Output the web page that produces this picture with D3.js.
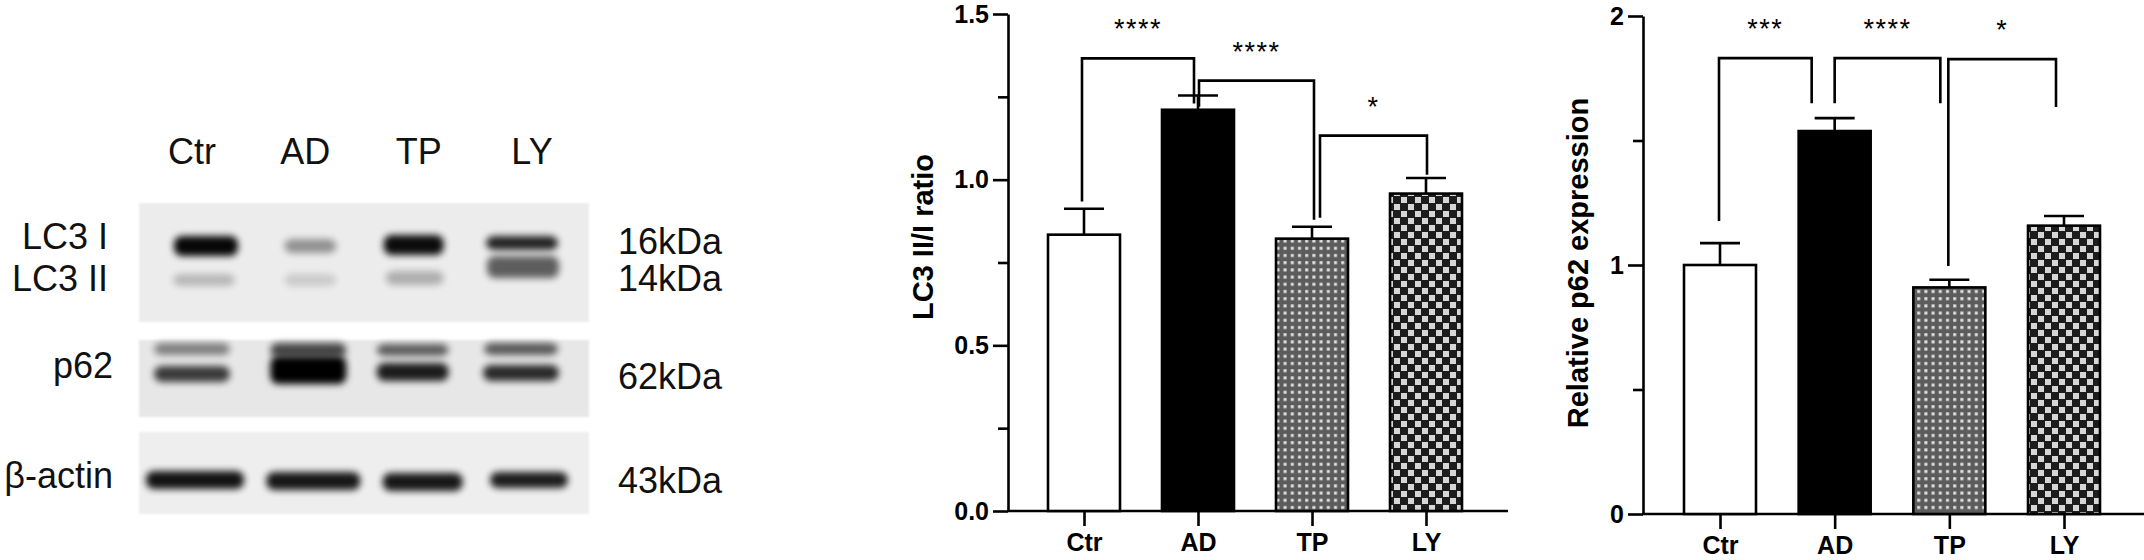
<!DOCTYPE html>
<html>
<head>
<meta charset="utf-8">
<script src="https://cdn.jsdelivr.net/npm/d3@7"></script>
<style>
  body { margin: 0; background: #fff; }
  svg { display: block; }
</style>
</head>
<body>
<svg id="fig" width="2144" height="560"></svg>
<script>
// ---- data ----
const groups = ["Ctr", "AD", "TP", "LY"];

const lc3Ratio = [0.834, 1.211, 0.822, 0.958];
const lc3Sem = [0.078, 0.043, 0.036, 0.047];
const lc3Major = [0, 0.5, 1.0, 1.5];
const lc3Minor = [0.25, 0.75, 1.25];
const lc3Pairs = [["Ctr", "AD"], ["AD", "TP"], ["TP", "LY"]];
const lc3Stars = ["****", "****", "*"];
const lc3BracketTop = [1.366, 1.299, 1.133];
const lc3LegEnd = [[0.934, 1.23], [1.22, 0.879], [0.885, 1.015]];

const p62Rel = [1.0, 1.538, 0.910, 1.158];
const p62Sem = [0.088, 0.052, 0.031, 0.039];
const p62Major = [0, 1, 2];
const p62Minor = [0.5, 1.5];
const p62Pairs = [["Ctr", "AD"], ["AD", "TP"], ["TP", "LY"]];
const p62Stars = ["***", "****", "*"];
const p62BracketTop = [1.831, 1.831, 1.827];
const p62LegEnd = [[1.177, 1.65], [1.65, 1.65], [0.996, 1.635]];

// blot band intensities (0..1) per lane
const lc3IBand = [0.97, 0.38, 0.95, 0.85];
const lc3IIBand = [0.22, 0.14, 0.26, 0.6];
const p62UpperBand = [0.45, 0.7, 0.6, 0.62];
const p62LowerBand = [0.75, 1.0, 0.88, 0.82];
const actinBand = [0.92, 0.9, 0.9, 0.88];

const rowLabels = ["LC3 I", "LC3 II", "p62", "β-actin"];
const sizeLabels = ["16kDa", "14kDa", "62kDa", "43kDa"];

const svg = d3.select("#fig");
const FONT = "Arial, 'Liberation Sans', sans-serif";

// ---- patterns ----
const defs = svg.append("defs");

var dots = defs.append("pattern")
  .attr("id", "dots").attr("patternUnits", "userSpaceOnUse")
  .attr("width", 7.2).attr("height", 7.2);
dots.append("rect").attr("width", 7.2).attr("height", 7.2).attr("fill", "#5c5c5c");
dots.append("rect").attr("x", 2).attr("y", 2).attr("width", 3).attr("height", 3).attr("fill", "#e2e2e2");

var checker = defs.append("pattern")
  .attr("id", "checker").attr("patternUnits", "userSpaceOnUse")
  .attr("width", 14).attr("height", 14);
checker.append("rect").attr("width", 14).attr("height", 14).attr("fill", "#1c1c1c");
checker.append("rect").attr("x", 1).attr("y", 1).attr("width", 6).attr("height", 6).attr("fill", "#d6d6d6");
checker.append("rect").attr("x", 8).attr("y", 8).attr("width", 6).attr("height", 6).attr("fill", "#d6d6d6");

defs.append("filter").attr("id", "blur")
  .attr("x", "-30%").attr("y", "-80%").attr("width", "160%").attr("height", "260%")
  .append("feGaussianBlur").attr("stdDeviation", 3.5);

defs.append("filter").attr("id", "soft")
  .append("feGaussianBlur").attr("stdDeviation", 1.2);

const fills = ["#ffffff", "#000000", "url(#dots)", "url(#checker)"];

// ---- bar chart ----
function barChart(opt) {
  var g = svg.append("g");

  var y = d3.scaleLinear().domain([0, opt.max]).range([opt.bottom, opt.top]);
  var x = d3.scalePoint().domain(groups).range([opt.first, opt.last]);

  // y axis
  var ya = g.append("g")
    .attr("transform", "translate(" + opt.left + ",0)")
    .call(d3.axisLeft(y).tickValues(opt.major).tickSize(15).tickSizeOuter(0)
      .tickPadding(4).tickFormat(d3.format(opt.fmt)));
  ya.select(".domain").attr("stroke-width", 2.6);
  ya.selectAll(".tick line").attr("stroke-width", 2.6);
  ya.selectAll("text")
    .attr("font-family", FONT).attr("font-size", 25).attr("font-weight", "bold")
    .attr("fill", "#000");

  var ym = g.append("g")
    .attr("transform", "translate(" + opt.left + ",0)")
    .call(d3.axisLeft(y).tickValues(opt.minor).tickSize(10).tickFormat(""));
  ym.select(".domain").remove();
  ym.selectAll(".tick line").attr("stroke-width", 2.6);

  // x axis
  g.append("line")
    .attr("x1", opt.left - 1).attr("x2", opt.right)
    .attr("y1", y(0)).attr("y2", y(0))
    .attr("stroke", "#000").attr("stroke-width", 2.6);

  var xa = g.append("g")
    .attr("transform", "translate(0," + y(0) + ")")
    .call(d3.axisBottom(x).tickSize(15).tickSizeOuter(0).tickPadding(7));
  xa.select(".domain").remove();
  xa.selectAll(".tick line").attr("stroke-width", 2.6);
  xa.selectAll("text")
    .attr("font-family", FONT).attr("font-size", 25).attr("font-weight", "bold")
    .attr("fill", "#000").attr("dy", "0.71em");

  // bars
  g.selectAll(".bar").data(groups).enter().append("rect")
    .attr("x", d => x(d) - opt.bw / 2)
    .attr("y", (d, i) => y(opt.values[i]))
    .attr("width", opt.bw)
    .attr("height", (d, i) => y(0) - y(opt.values[i]))
    .attr("fill", (d, i) => fills[i])
    .attr("stroke", "#000").attr("stroke-width", 2.6);

  // error bars (upper only)
  groups.forEach(function (d, i) {
    var cx = x(d);
    var top = y(opt.values[i] + opt.sem[i]);
    g.append("line")
      .attr("x1", cx).attr("x2", cx)
      .attr("y1", y(opt.values[i])).attr("y2", top)
      .attr("stroke", "#000").attr("stroke-width", 2.6);
    g.append("line")
      .attr("x1", cx - 20).attr("x2", cx + 20)
      .attr("y1", top).attr("y2", top)
      .attr("stroke", "#000").attr("stroke-width", 2.6);
  });

  // significance brackets
  opt.pairs.forEach(function (p, i) {
    var x1 = x(p[0]) + opt.legShift[i][0];
    var x2 = x(p[1]) + opt.legShift[i][1];
    var yt = y(opt.bracketTop[i]);
    var path = d3.path();
    path.moveTo(x1, y(opt.legEnd[i][0]));
    path.lineTo(x1, yt);
    path.lineTo(x2, yt);
    path.lineTo(x2, y(opt.legEnd[i][1]));
    g.append("path").attr("d", path.toString())
      .attr("fill", "none").attr("stroke", "#000").attr("stroke-width", 2.6);
    g.append("text")
      .attr("x", (x1 + x2) / 2).attr("y", yt - 20)
      .attr("text-anchor", "middle")
      .attr("font-family", FONT).attr("font-size", 27)
      .attr("letter-spacing", 1.5)
      .text(opt.stars[i]);
  });

  // y title
  g.append("text")
    .attr("transform", "translate(" + opt.titleX + "," + opt.titleY + ") rotate(-90)")
    .attr("text-anchor", "middle")
    .attr("font-family", FONT).attr("font-size", 29).attr("font-weight", "bold")
    .text(opt.title);
}

barChart({
  values: lc3Ratio, sem: lc3Sem, max: 1.5, major: lc3Major, minor: lc3Minor, fmt: ".1f",
  top: 14, bottom: 511, left: 1008, right: 1508, first: 1084, last: 1426, bw: 72,
  pairs: lc3Pairs, stars: lc3Stars, bracketTop: lc3BracketTop, legEnd: lc3LegEnd,
  legShift: [[-2, -4], [1, 2], [8, 1]],
  title: "LC3 II/I ratio", titleX: 933, titleY: 237
});

barChart({
  values: p62Rel, sem: p62Sem, max: 2, major: p62Major, minor: p62Minor, fmt: "d",
  top: 16, bottom: 514, left: 1643, right: 2144, first: 1720, last: 2064, bw: 72,
  pairs: p62Pairs, stars: p62Stars, bracketTop: p62BracketTop, legEnd: p62LegEnd,
  legShift: [[-1, -23], [0, -9], [-1, -8]],
  title: "Relative p62 expression", titleX: 1588, titleY: 263
});

// ---- western blot panel ----
var blot = svg.append("g");
var lane = d3.scalePoint().domain(groups).range([200, 525]);

var panels = [
  { y0: 203, y1: 322, fill: "#ececec" },
  { y0: 340, y1: 417, fill: "#e7e7e7" },
  { y0: 432, y1: 514, fill: "#eeeeee" }
];
blot.selectAll(".panel").data(panels).enter().append("rect")
  .attr("x", 139).attr("width", 450)
  .attr("y", d => d.y0).attr("height", d => d.y1 - d.y0)
  .attr("fill", d => d.fill)
  .attr("filter", "url(#soft)");

var bandRows = [
  { vals: lc3IIBand, y: [280, 280, 278, 267], h: [12, 12, 14, 22], w: [62, 52, 58, 72], dx: [4, 2, -2, -2] },
  { vals: lc3IBand, y: [246, 246, 245, 243], h: [20, 14, 20, 14], w: [64, 52, 60, 72], dx: [6, 2, -3, -3] },
  { vals: p62UpperBand, y: [349, 350, 350, 349], h: [12, 14, 12, 12], w: [76, 76, 72, 74], dx: [-8, 0, -4, -4] },
  { vals: p62LowerBand, y: [374, 370, 372, 373], h: [16, 28, 18, 16], w: [76, 76, 72, 76], dx: [-8, 0, -4, -4] },
  { vals: actinBand, y: [480, 481, 482, 480], h: [18, 18, 18, 16], w: [98, 94, 80, 78], dx: [-5, 5, 6, 4] }
];

bandRows.forEach(function (row) {
  blot.selectAll(null).data(groups).enter().append("rect")
    .attr("x", (d, i) => lane(d) + row.dx[i] - row.w[i] / 2)
    .attr("y", (d, i) => row.y[i] - row.h[i] / 2)
    .attr("width", (d, i) => row.w[i])
    .attr("height", (d, i) => row.h[i])
    .attr("rx", 8)
    .attr("fill", "#000")
    .attr("opacity", (d, i) => row.vals[i])
    .attr("filter", "url(#blur)");
});

// lane labels
blot.selectAll(".lane").data(groups).enter().append("text")
  .attr("x", (d, i) => lane(d) - 8 + i * 5)
  .attr("y", 164)
  .attr("text-anchor", "middle")
  .attr("font-family", FONT).attr("font-size", 36).attr("fill", "#111")
  .text(d => d);

// protein labels (left) and sizes (right)
var rowBaselines = [249, 291, 378, 488];
var sizeBaselines = [254, 291, 389, 493];
blot.selectAll(".rowlab").data(rowLabels).enter().append("text")
  .attr("x", (d, i) => i < 2 ? 108 : 113)
  .attr("y", (d, i) => rowBaselines[i])
  .attr("text-anchor", "end")
  .attr("font-family", FONT).attr("font-size", 36).attr("fill", "#111")
  .text(d => d);
blot.selectAll(".sizelab").data(sizeLabels).enter().append("text")
  .attr("x", 618)
  .attr("y", (d, i) => sizeBaselines[i])
  .attr("font-family", FONT).attr("font-size", 36).attr("fill", "#111")
  .text(d => d);
</script>
</body>
</html>
